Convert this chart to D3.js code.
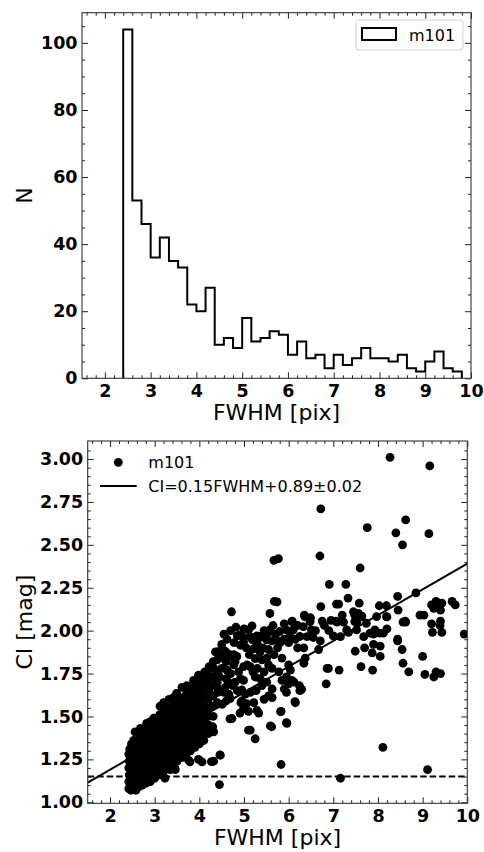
<!DOCTYPE html>
<html>
<head>
<meta charset="utf-8">
<script src="https://cdn.jsdelivr.net/npm/d3@7"></script>
<style>
  body { margin: 0; background: #fff; }
  text { font-family: "DejaVu Sans", sans-serif; }
</style>
</head>
<body>
<div id="chart"></div>
<script>
// FWHM histogram, 0.2 pix bins
const binLeft = [2.4, 2.6, 2.8, 3.0, 3.2, 3.4, 3.6, 3.8, 4.0, 4.2, 4.4, 4.6, 4.8, 5.0, 5.2, 5.4, 5.6, 5.8, 6.0,
                 6.2, 6.4, 6.6, 6.8, 7.0, 7.2, 7.4, 7.6, 7.8, 8.0, 8.2, 8.4, 8.6, 8.8, 9.0, 9.2, 9.4, 9.6];
const binCounts = [104, 53, 46, 36, 42, 35, 33, 22, 20, 27, 10, 12, 9, 18, 11, 12, 14, 13, 7,
                   11, 6, 7, 3, 7, 4, 6, 9, 6, 6, 5, 7, 3, 2, 5, 8, 3, 2];
const binWidth = 0.2;

const xTicks = [2, 3, 4, 5, 6, 7, 8, 9, 10];
const nTicks = [0, 20, 40, 60, 80, 100];
const ciTicks = [1.00, 1.25, 1.50, 1.75, 2.00, 2.25, 2.50, 2.75, 3.00];

// CI = 0.15 FWHM + 0.89, and the CI cut
const fitSlope = 0.15;
const fitIntercept = 0.89;
const ciCut = 1.15;
const fitLabel = "CI=0.15FWHM+0.89\u00b10.02";

// [FWHM, CI]
const ciPoints = [
  // dense core
  [2.42,1.08],[2.42,1.12],[2.43,1.16],[2.42,1.20],[2.43,1.24],[2.42,1.28],[2.44,1.31],
  [2.47,1.07],[2.48,1.10],[2.47,1.14],[2.48,1.18],[2.47,1.22],[2.48,1.26],[2.47,1.30],[2.48,1.34],
  [2.53,1.08],[2.53,1.12],[2.54,1.16],[2.53,1.20],[2.54,1.24],[2.53,1.28],[2.54,1.32],[2.53,1.36],
  [2.58,1.07],[2.59,1.11],[2.58,1.15],[2.59,1.19],[2.58,1.23],[2.59,1.27],[2.58,1.31],[2.59,1.35],[2.56,1.41],
  [2.64,1.09],[2.65,1.13],[2.64,1.17],[2.65,1.21],[2.64,1.25],[2.65,1.29],[2.64,1.33],[2.65,1.37],[2.68,1.43],
  [2.72,1.10],[2.73,1.14],[2.72,1.18],[2.73,1.22],[2.72,1.26],[2.73,1.30],[2.72,1.34],[2.73,1.38],[2.71,1.41],
  [2.80,1.11],[2.81,1.15],[2.80,1.19],[2.81,1.23],[2.80,1.27],[2.81,1.31],[2.80,1.35],[2.81,1.39],[2.80,1.43],[2.82,1.46],
  [2.90,1.12],[2.91,1.16],[2.90,1.20],[2.91,1.24],[2.90,1.28],[2.91,1.32],[2.90,1.36],[2.91,1.40],[2.90,1.44],[2.90,1.47],
  [3.00,1.14],[3.01,1.17],[3.00,1.21],[3.01,1.25],[3.00,1.29],[3.01,1.33],[3.00,1.37],[3.01,1.41],[3.00,1.45],[2.98,1.49],
  [3.10,1.16],[3.11,1.19],[3.10,1.23],[3.11,1.27],[3.10,1.31],[3.11,1.35],[3.10,1.39],[3.11,1.43],[3.10,1.47],[3.11,1.51],[3.12,1.56],
  [3.20,1.18],[3.21,1.21],[3.20,1.25],[3.21,1.29],[3.20,1.33],[3.21,1.37],[3.20,1.41],[3.21,1.45],[3.20,1.49],[3.21,1.53],[3.20,1.58],
  [3.30,1.20],[3.31,1.23],[3.30,1.27],[3.31,1.31],[3.30,1.35],[3.31,1.39],[3.30,1.43],[3.31,1.47],[3.30,1.51],[3.31,1.55],[3.32,1.60],
  [3.40,1.22],[3.41,1.25],[3.40,1.29],[3.41,1.33],[3.40,1.37],[3.41,1.41],[3.40,1.45],[3.41,1.49],[3.40,1.53],[3.41,1.57],[3.42,1.61],
  [3.50,1.24],[3.51,1.27],[3.50,1.31],[3.51,1.35],[3.50,1.39],[3.51,1.43],[3.50,1.47],[3.51,1.51],[3.50,1.55],[3.51,1.59],[3.49,1.635],
  [3.60,1.26],[3.61,1.29],[3.60,1.33],[3.61,1.37],[3.60,1.41],[3.61,1.45],[3.60,1.49],[3.61,1.53],[3.60,1.57],[3.61,1.61],[3.61,1.67],
  [3.70,1.28],[3.71,1.31],[3.70,1.35],[3.71,1.39],[3.70,1.43],[3.71,1.47],[3.70,1.51],[3.71,1.55],[3.70,1.59],[3.71,1.63],[3.72,1.68],
  [3.80,1.30],[3.81,1.33],[3.80,1.37],[3.81,1.41],[3.80,1.45],[3.81,1.49],[3.80,1.53],[3.81,1.57],[3.80,1.61],[3.81,1.65],[3.87,1.71],
  [3.90,1.32],[3.91,1.36],[3.90,1.40],[3.91,1.44],[3.90,1.48],[3.91,1.52],[3.90,1.56],[3.91,1.60],[3.90,1.64],[3.91,1.68],
  [4.00,1.34],[4.01,1.38],[4.00,1.42],[4.01,1.46],[4.00,1.50],[4.01,1.54],[4.00,1.58],[4.01,1.62],[4.00,1.66],[4.01,1.70],[3.98,1.74],
  [4.10,1.36],[4.11,1.40],[4.10,1.44],[4.11,1.48],[4.10,1.52],[4.11,1.56],[4.10,1.60],[4.11,1.64],[4.10,1.68],[4.11,1.72],[4.12,1.76],
  [4.20,1.40],[4.21,1.45],[4.20,1.50],[4.21,1.55],[4.20,1.60],[4.21,1.65],[4.20,1.70],[4.21,1.74],[4.22,1.79],
  [4.30,1.44],[4.31,1.50],[4.30,1.56],[4.31,1.62],[4.30,1.68],[4.31,1.73],[4.32,1.78],[4.31,1.82],
  [4.40,1.58],[4.41,1.64],[4.40,1.70],[4.41,1.76],[4.40,1.83],[4.40,1.87],
  // stragglers below the core
  [2.89,1.12],[3.23,1.14],[3.45,1.20],[3.35,1.19],[3.46,1.19],[3.28,1.21],[3.79,1.236],[3.76,1.245],
  [3.98,1.25],[4.06,1.235],[4.32,1.41],[4.25,1.43],[4.47,1.274],[4.32,1.239],[4.45,1.103],[4.27,1.237],[4.46,1.276],
  // x 4.4 - 5.7
  [4.42,1.878],[4.36,1.876],[4.47,1.87],[4.58,1.88],[4.65,1.865],[4.69,1.85],[4.77,1.86],[4.84,1.85],
  [4.54,1.84],[4.60,1.82],[4.77,1.80],[4.50,1.78],[4.70,1.75],[4.60,1.72],[4.80,1.70],[4.85,1.65],
  [4.43,1.66],[4.55,1.64],[4.66,1.63],[4.51,1.57],[4.60,1.59],[4.69,1.604],[4.73,1.488],[4.685,1.486],
  [4.92,1.915],[4.99,1.935],[4.99,1.96],[5.14,1.965],[5.29,1.97],[5.36,1.96],[5.18,2.028],[4.72,2.11],
  [4.99,1.79],[5.07,1.80],[5.14,1.79],[5.22,1.895],[5.36,1.876],[5.25,1.837],[4.92,1.72],[4.99,1.71],
  [5.25,1.73],[5.36,1.72],[4.95,1.655],[5.03,1.63],[5.14,1.64],[4.95,1.59],[5.06,1.575],[5.22,1.58],
  [4.99,1.546],[5.10,1.53],[5.29,1.535],[5.33,1.52],[4.91,1.52],[5.02,1.55],[4.93,1.58],
  [5.14,1.42],[5.10,1.42],[5.25,1.37],[5.59,1.445],[5.62,1.44],
  [5.51,1.98],[5.62,1.94],[5.55,1.89],[5.67,1.86],[5.51,1.84],[5.55,1.80],[5.63,1.78],
  [5.51,1.70],[5.63,1.66],[5.55,1.62],[5.63,1.61],
  [4.50,1.92],[4.62,1.95],[4.78,1.93],[4.85,1.97],[4.55,1.98],[4.70,2.00],[4.82,2.02],[5.00,2.01],
  [5.05,1.90],[5.12,1.86],[5.30,1.92],[5.42,1.90],[5.45,2.00],[5.40,1.83],[5.30,1.78],[5.20,1.76],
  [5.45,1.76],[5.40,1.68],[5.27,1.65],[5.45,1.60],[4.88,1.76],[4.80,1.82],[4.62,1.77],[4.45,1.73],
  [4.75,1.68],[4.65,1.70],[4.58,1.67],
  // band near CI ~ 2
  [4.91,1.975],[5.10,2.004],[5.19,1.946],[5.36,1.966],[5.51,1.946],[5.58,2.004],[5.73,1.946],[5.80,1.995],
  [5.95,2.004],[6.07,2.053],[6.10,2.004],[6.25,1.966],[6.33,2.024],[6.36,2.082],[6.48,2.053],[6.51,2.004],
  [6.03,1.966],[5.81,1.93],[6.34,1.90],[6.41,1.965],[6.67,1.89],[6.71,1.94],[6.55,1.96],[6.60,2.00],
  [6.80,2.03],[6.90,2.00],[7.00,1.97],[6.95,2.06],[7.16,1.965],[7.34,1.99],[7.53,2.05],[7.68,1.965],
  [7.08,2.05],[7.23,2.05],[7.30,2.004],[7.45,2.11],[7.48,2.053],[7.52,2.004],[7.63,2.082],[7.74,2.043],
  [7.82,1.985],[7.93,2.004],[7.97,2.082],[8.04,1.985],[8.19,2.082],[7.90,1.98],[8.12,1.985],[8.20,2.01],
  [7.90,1.92],[8.05,1.91],[7.49,1.88],[7.70,1.90],[7.87,1.87],[8.05,1.85],[8.44,1.94],[8.54,1.89],
  [8.56,2.05],[8.62,2.05],[8.44,1.95],[9.20,2.04],[9.22,1.99],[9.39,2.03],[9.43,1.99],[9.93,1.98],
  [5.70,1.98],[5.75,1.90],[5.90,1.95],[6.00,1.93],[6.15,1.95],[6.20,1.90],[5.65,2.03],[5.90,2.04],
  [6.20,2.03],
  // x 5.7 - 9.5, below the fit
  [5.85,1.84],[6.00,1.80],[6.04,1.77],[5.78,1.76],[6.34,1.81],[6.37,1.84],[6.07,1.71],[6.12,1.70],
  [5.90,1.66],[5.95,1.64],[6.00,1.69],[5.85,1.71],[5.95,1.73],[6.25,1.65],[6.24,1.68],[6.29,1.658],
  [6.14,1.587],[6.15,1.58],[5.83,1.53],[5.82,1.528],[5.96,1.46],[5.95,1.464],
  [6.84,1.69],[6.86,1.78],[6.89,1.78],[7.13,1.77],[7.62,1.79],[7.88,1.77],
  [8.56,1.81],[8.69,1.76],[9.00,1.85],[9.05,1.745],[9.25,1.73],[9.30,1.76],[9.40,1.75],
  [5.83,1.22],[7.16,1.14],[8.11,1.32],[9.11,1.19],
  // upper scatter
  [8.27,3.01],[9.16,2.96],[6.72,2.71],[8.62,2.645],[7.76,2.60],[8.40,2.57],[9.14,2.565],[8.55,2.50],
  [6.70,2.435],[5.67,2.41],[5.77,2.42],[7.60,2.365],[6.91,2.27],[7.28,2.27],[8.85,2.22],[8.44,2.20],
  [7.33,2.19],[6.72,2.14],[7.07,2.155],[7.12,2.155],[8.03,2.145],[8.19,2.145],[8.45,2.12],[5.68,2.17],
  [5.74,2.167],[5.58,2.10],[9.20,2.15],[9.25,2.13],[9.30,2.17],[9.36,2.14],[9.40,2.12],[9.43,2.16],
  [9.66,2.17],[9.73,2.15],[8.20,2.08],[9.03,2.09],[8.94,2.09],[9.40,2.055],[7.58,2.16],[7.20,2.09],
  [7.48,2.09],[7.56,2.10],[7.64,2.085],[6.35,2.09],[6.49,2.075],[7.06,2.055],[6.08,2.055],[6.75,2.056],
  [8.61,2.055]
];

const svg = d3.select("#chart")
  .append("svg")
  .attr("width", 484)
  .attr("height", 852);

// draw frame, inward ticks on all four sides, tick labels
function drawFrame(g, x, y, yTicks, yMinor, yFmt) {
  const [x0, x1] = x.range();
  const [y0, y1] = y.range();
  const xMinor = d3.range(1.6, 10.01, 0.2).filter(v => Math.abs(v - Math.round(v)) > 0.01);

  const axes = [
    [d3.axisBottom(x).tickValues(xTicks).tickSize(-6).tickPadding(6).tickFormat(d3.format("d")), `translate(0,${y0})`],
    [d3.axisBottom(x).tickValues(xMinor).tickSize(-3).tickFormat(""), `translate(0,${y0})`],
    [d3.axisTop(x).tickValues(xTicks).tickSize(-6).tickFormat(""), `translate(0,${y1})`],
    [d3.axisTop(x).tickValues(xMinor).tickSize(-3).tickFormat(""), `translate(0,${y1})`],
    [d3.axisLeft(y).tickValues(yTicks).tickSize(-6).tickPadding(4.5).tickFormat(yFmt), `translate(${x0},0)`],
    [d3.axisLeft(y).tickValues(yMinor).tickSize(-3).tickFormat(""), `translate(${x0},0)`],
    [d3.axisRight(y).tickValues(yTicks).tickSize(-6).tickFormat(""), `translate(${x1},0)`],
    [d3.axisRight(y).tickValues(yMinor).tickSize(-3).tickFormat(""), `translate(${x1},0)`]
  ];
  axes.forEach(([ax, tr]) => {
    const a = g.append("g").attr("transform", tr).call(ax.tickSizeOuter(0));
    a.select(".domain").remove();
    a.selectAll(".tick line").attr("stroke", "#222").attr("stroke-width", 1);
    a.selectAll("text")
      .attr("fill", "#000")
      .attr("font-family", "DejaVu Sans")
      .attr("font-weight", "bold")
      .attr("font-size", "17.5px");
  });

  g.append("rect")
    .attr("x", x0).attr("y", y1)
    .attr("width", x1 - x0).attr("height", y0 - y1)
    .attr("fill", "none")
    .attr("stroke", "#333")
    .attr("stroke-width", 1.1);
}

function axisLabels(g, x, y, yText) {
  const [x0, x1] = x.range();
  const [y0, y1] = y.range();
  g.append("text")
    .attr("x", (x0 + x1) / 2)
    .attr("y", y0 + 41.5)
    .attr("text-anchor", "middle")
    .attr("font-size", "22px")
    .text("FWHM [pix]");
  g.append("text")
    .attr("transform", `translate(31.5,${(y0 + y1) / 2}) rotate(-90)`)
    .attr("text-anchor", "middle")
    .attr("font-size", "22px")
    .text(yText);
}

// ---------- upper panel: histogram ----------
const xHist = d3.scaleLinear().domain([1.5, 10]).range([82, 471]);
const yHist = d3.scaleLinear().domain([0, 109]).range([378.3, 12.7]);
const histG = svg.append("g");

// step outline
const stepPts = [[binLeft[0], 0]];
binLeft.forEach((b, i) => {
  stepPts.push([b, binCounts[i]]);
  stepPts.push([b + binWidth, binCounts[i]]);
});
stepPts.push([binLeft[binLeft.length - 1] + binWidth, 0]);

histG.append("path")
  .datum(stepPts)
  .attr("d", d3.line().x(d => xHist(d[0])).y(d => yHist(d[1])))
  .attr("fill", "none")
  .attr("stroke", "#000")
  .attr("stroke-width", 2)
  .attr("stroke-linejoin", "miter");

drawFrame(histG, xHist, yHist, nTicks, d3.range(5, 106, 5).filter(v => v % 20 !== 0), d3.format("d"));
axisLabels(histG, xHist, yHist, "N");

// legend
const leg = histG.append("g");
leg.append("rect")
  .attr("x", 356).attr("y", 20).attr("width", 107).attr("height", 30).attr("rx", 3)
  .attr("fill", "#fff").attr("stroke", "#d0d0d0").attr("stroke-width", 1);
leg.append("rect")
  .attr("x", 362).attr("y", 28).attr("width", 34).attr("height", 12)
  .attr("fill", "#fff").attr("stroke", "#000").attr("stroke-width", 2);
leg.append("text")
  .attr("x", 409).attr("y", 40.5)
  .attr("font-size", "16px")
  .text("m101");

// ---------- lower panel: CI vs FWHM ----------
const xCI = d3.scaleLinear().domain([1.5, 10]).range([87.7, 467.3]);
const yCI = d3.scaleLinear().domain([0.994, 3.105]).range([803.3, 441]);
const ciG = svg.append("g");

svg.append("clipPath").attr("id", "clipCI")
  .append("rect")
  .attr("x", 87.7).attr("y", 441)
  .attr("width", 467.3 - 87.7).attr("height", 803.3 - 441);

const plot = ciG.append("g").attr("clip-path", "url(#clipCI)");

plot.selectAll("circle")
  .data(ciPoints)
  .enter()
  .append("circle")
  .attr("cx", d => xCI(d[0]))
  .attr("cy", d => yCI(d[1]))
  .attr("r", 4.4)
  .attr("fill", "#000");

plot.append("line")
  .attr("x1", xCI(1.5)).attr("y1", yCI(fitSlope * 1.5 + fitIntercept))
  .attr("x2", xCI(10)).attr("y2", yCI(fitSlope * 10 + fitIntercept))
  .attr("stroke", "#000")
  .attr("stroke-width", 2);

plot.append("line")
  .attr("x1", xCI(1.5)).attr("y1", yCI(ciCut))
  .attr("x2", xCI(10)).attr("y2", yCI(ciCut))
  .attr("stroke", "#000")
  .attr("stroke-width", 2)
  .attr("stroke-dasharray", "6.5,3");

drawFrame(ciG, xCI, yCI, ciTicks,
  d3.range(1.05, 3.1, 0.05).filter(v => Math.abs(v * 4 - Math.round(v * 4)) > 0.01),
  d3.format(".2f"));
axisLabels(ciG, xCI, yCI, "CI [mag]");

// legend (no frame)
ciG.append("circle")
  .attr("cx", 118.3).attr("cy", 462.3).attr("r", 4.4).attr("fill", "#000");
ciG.append("text")
  .attr("x", 148.3).attr("y", 467.5)
  .attr("font-size", "16px")
  .text("m101");
ciG.append("line")
  .attr("x1", 100).attr("y1", 486).attr("x2", 136.7).attr("y2", 486)
  .attr("stroke", "#000").attr("stroke-width", 2);
ciG.append("text")
  .attr("x", 148.3).attr("y", 492)
  .attr("font-size", "16px")
  .text(fitLabel);
</script>
</body>
</html>
